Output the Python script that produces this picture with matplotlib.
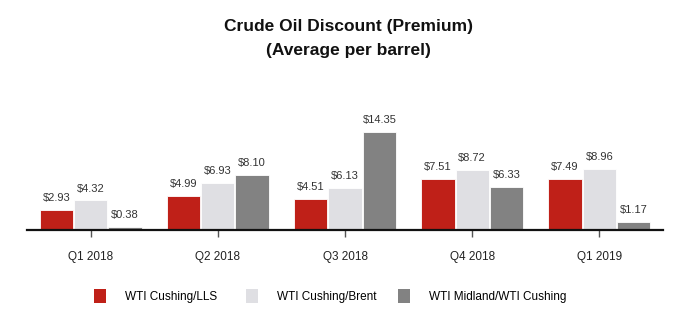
import matplotlib
matplotlib.use("Agg")
import matplotlib.pyplot as plt
import numpy as np
from matplotlib.patches import Patch

quarters = ["Q1 2018", "Q2 2018", "Q3 2018", "Q4 2018", "Q1 2019"]
series_names = ["WTI Cushing/LLS", "WTI Cushing/Brent", "WTI Midland/WTI Cushing"]
cushing_lls = [2.93, 4.99, 4.51, 7.51, 7.49]
cushing_brent = [4.32, 6.93, 6.13, 8.72, 8.96]
midland_cushing = [0.38, 8.10, 14.35, 6.33, 1.17]
colors = ["#BF2018", "#DFDFE3", "#828282"]

plt.rcParams["font.family"] = ["Liberation Sans", "DejaVu Sans"]

W, H = 696, 333
fig = plt.figure(figsize=(W / 100, H / 100), dpi=100)
left, right = 27, 663
base_y = 230
ymax = 16.0
px_per_unit = 6.83
top_y = base_y - ymax * px_per_unit
ax = fig.add_axes([left / W, (H - base_y) / H, (right - left) / W, (base_y - top_y) / H])

x = np.arange(len(quarters))
bw = 0.262
for i, (vals, c) in enumerate(zip([cushing_lls, cushing_brent, midland_cushing], colors)):
    pos = x + (i - 1) * (bw + 0.008)
    ax.bar(pos, vals, width=bw, color=c, edgecolor="white", linewidth=0.6, zorder=2)
    for p, v in zip(pos, vals):
        ax.annotate(f"${v:.2f}", (p, v), xytext=(0, 5), textcoords="offset points",
                    ha="center", va="bottom", fontsize=8, color="#333333")

ax.set_xlim(-0.5, len(quarters) - 0.5)
ax.set_ylim(0, ymax)
ax.set_xticks(x)
ax.set_xticklabels(quarters, fontsize=8.5, color="#222222")
ax.tick_params(axis="x", length=5, width=1, color="#555555", pad=10)
ax.set_yticks([])
for s in ["top", "right", "left"]:
    ax.spines[s].set_visible(False)
ax.spines["bottom"].set_linewidth(1.6)
ax.spines["bottom"].set_color("#111111")
ax.spines["bottom"].set_zorder(3)

fig.text(0.5, 1 - 27 / H, "Crude Oil Discount (Premium)", ha="center", va="center",
         fontsize=12.5, fontweight="bold", color="#111111")
fig.text(0.5, 1 - 50 / H, "(Average per barrel)", ha="center", va="center",
         fontsize=12.5, fontweight="bold", color="#111111")

# one legend entry per series, placed at fixed positions along the bottom
legend_x = [94, 246, 398]
for name, c, lx in zip(series_names, colors, legend_x):
    fig.legend([Patch(facecolor=c, edgecolor="none")], [name], loc="center left",
               bbox_to_anchor=(lx / W, 1 - 296 / H), frameon=False, fontsize=8.5,
               handlelength=1.0, handleheight=1.4, handletextpad=1.6,
               borderpad=0, borderaxespad=0)

fig.savefig("out.png", dpi=100)
